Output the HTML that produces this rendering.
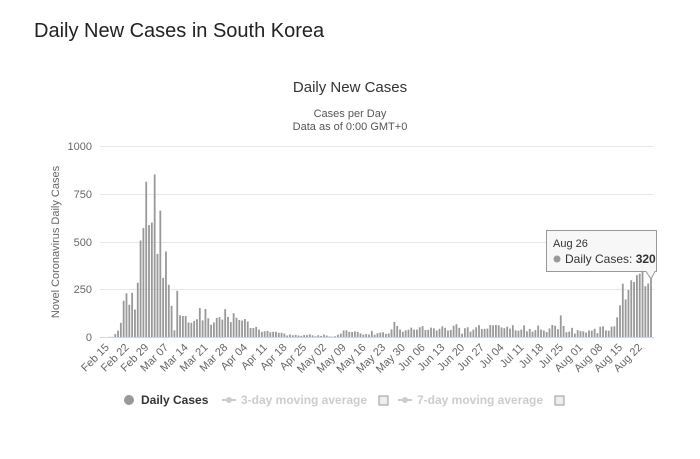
<!DOCTYPE html>
<html><head><meta charset="utf-8"><style>
body{margin:0;background:#fff;width:700px;height:454px;overflow:hidden;font-family:"Liberation Sans",sans-serif}
</style></head><body>
<svg id="s" width="700" height="454" xmlns="http://www.w3.org/2000/svg" font-family="Liberation Sans, sans-serif">
<text x="34" y="37" font-size="20" fill="#222">Daily New Cases in South Korea</text>
<text x="350" y="92" font-size="15" fill="#333" text-anchor="middle">Daily New Cases</text>
<text x="350" y="117" font-size="11" fill="#555" text-anchor="middle">Cases per Day</text>
<text x="350" y="130" font-size="11" fill="#555" text-anchor="middle">Data as of 0:00 GMT+0</text>
<g stroke="#e6e6e6" stroke-width="1">
<line x1="100" x2="654" y1="146.5" y2="146.5"/>
<line x1="100" x2="654" y1="194.5" y2="194.5"/>
<line x1="100" x2="654" y1="242.5" y2="242.5"/>
<line x1="100" x2="654" y1="289.5" y2="289.5"/>
</g>
<line x1="100" x2="654" y1="337.5" y2="337.5" stroke="#ccd6eb"/>
<g font-size="11" fill="#666" text-anchor="end">
<text x="92" y="150">1000</text><text x="92" y="198">750</text><text x="92" y="246">500</text><text x="92" y="293">250</text><text x="92" y="341">0</text>
</g>
<text transform="translate(59,242) rotate(-90)" font-size="11" fill="#666" text-anchor="middle">Novel Coronavirus Daily Cases</text>
<g id="bars" fill="#999"></g>
<g id="xl" font-size="11" fill="#666" text-anchor="end"></g>
<g font-size="12">
<circle cx="129" cy="400" r="5" fill="#999"/>
<text x="141" y="404" font-weight="bold" fill="#333">Daily Cases</text>
<line x1="222" x2="236" y1="400" y2="400" stroke="#ccc" stroke-width="2"/><circle cx="229" cy="400" r="3" fill="#ccc"/>
<text x="241" y="404" font-weight="bold" fill="#ccc">3-day moving average</text>
<rect x="379" y="396" width="9" height="9" fill="#eee" stroke="#999"/>
<line x1="398" x2="412" y1="400" y2="400" stroke="#ccc" stroke-width="2"/><circle cx="405" cy="400" r="3" fill="#ccc"/>
<text x="417" y="404" font-weight="bold" fill="#ccc">7-day moving average</text>
<rect x="555" y="396" width="9" height="9" fill="#eee" stroke="#999"/>
</g>
<path d="M546.5 230.5 H656.5 V271.5 H655 L651 279 L646 271.5 H546.5 Z" fill="#f7f7f7" fill-opacity="0.95" stroke="#999"/>
<text x="553" y="247" font-size="11" fill="#333">Aug 26</text>
<circle cx="557" cy="259" r="3.5" fill="#999"/>
<text x="565" y="263" font-size="12" fill="#333">Daily Cases: <tspan font-weight="bold">320</tspan></text>
</svg>
<script>
var d=[0,0,1,1,15,34,74,190,229,169,231,144,284,505,571,813,586,599,851,435,662,309,448,273,163,35,242,114,110,110,76,74,84,93,152,87,147,98,64,76,100,104,91,146,105,78,125,101,89,86,94,81,47,47,53,39,27,30,32,25,27,27,22,22,18,8,13,9,11,8,6,10,10,14,9,4,9,6,13,8,3,2,4,12,18,34,35,27,26,29,27,19,13,15,13,32,12,20,23,25,16,19,40,79,58,39,27,35,38,49,39,39,51,57,37,38,49,45,34,43,56,48,34,37,59,67,48,17,46,51,28,39,51,62,42,43,44,63,61,63,61,50,46,54,44,62,35,33,39,61,60,39,34,26,45,63,59,41,113,58,25,28,48,18,36,31,30,23,34,33,43,20,54,56,34,33,54,56,103,166,279,197,246,297,288,324,332,397,266,280,320];
d.splice(150,0,30,42,28,36);
var N=194,sp=2.82,x0=651-(N-1)*sp,ns="http://www.w3.org/2000/svg";
var off=N-d.length,g=document.getElementById('bars');
for(var i=0;i<d.length;i++){var v=d[i];if(!v)continue;var h=v*0.191;var r=document.createElementNS(ns,'rect');
r.setAttribute('x',(x0+(i+off)*sp-0.9).toFixed(2));r.setAttribute('y',(337-h).toFixed(2));r.setAttribute('width','1.8');r.setAttribute('height',h.toFixed(2));g.appendChild(r);}
var L=["Feb 15","Feb 22","Feb 29","Mar 07","Mar 14","Mar 21","Mar 28","Apr 04","Apr 11","Apr 18","Apr 25","May 02","May 09","May 16","May 23","May 30","Jun 06","Jun 13","Jun 20","Jun 27","Jul 04","Jul 11","Jul 18","Jul 25","Aug 01","Aug 08","Aug 15","Aug 22"];
var xl=document.getElementById('xl');
for(var k=0;k<L.length;k++){var x=x0+k*7*sp+3;var t=document.createElementNS(ns,'text');t.setAttribute('transform','translate('+x.toFixed(1)+',348) rotate(-45)');t.textContent=L[k];xl.appendChild(t);}
</script>
</body></html>
